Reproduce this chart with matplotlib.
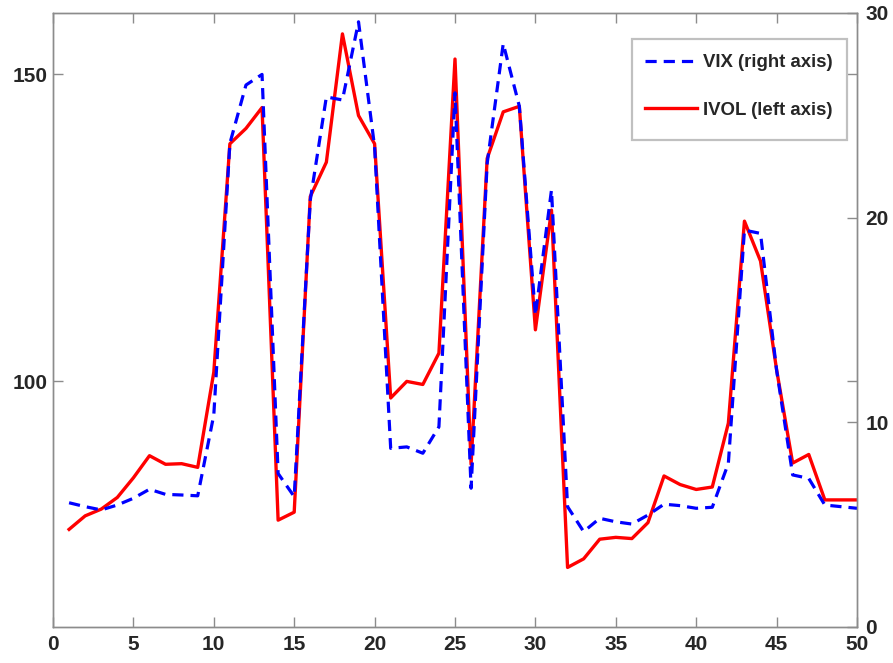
import matplotlib
matplotlib.use("Agg")
import matplotlib.pyplot as plt
from matplotlib.patches import Rectangle

plt.rcParams['font.family'] = ['Liberation Sans', 'DejaVu Sans']

x = list(range(1, 51))
ivol = [75.9, 78.1, 79.2, 81.1, 84.3, 87.9, 86.5, 86.6, 86.0, 101.5,
        138.7, 141.2, 144.6, 77.4, 78.7, 130.1, 135.7, 156.6, 143.3, 138.7,
        97.3, 100.0, 99.5, 104.6, 152.5, 86.5, 136.3, 143.9, 144.8, 108.4,
        127.9, 69.7, 71.1, 74.3, 74.6, 74.4, 77.0, 84.6, 83.2, 82.4,
        82.8, 93.2, 126.1, 119.6, 101.9, 86.7, 88.1, 80.7, 80.7, 80.7]
vix = [6.07, 5.88, 5.72, 5.96, 6.29, 6.73, 6.48, 6.45, 6.41, 10.36,
       23.63, 26.48, 27.0, 7.5, 6.37, 20.86, 25.9, 25.75, 29.57, 23.46,
       8.73, 8.8, 8.49, 9.78, 26.1, 6.78, 22.65, 28.5, 25.45, 15.24,
       21.35, 5.88, 4.66, 5.31, 5.14, 5.03, 5.47, 6.0, 5.93, 5.8,
       5.85, 8.0, 19.39, 19.23, 12.55, 7.43, 7.26, 5.96, 5.88, 5.8]

xticks = [0, 5, 10, 15, 20, 25, 30, 35, 40, 45, 50]
left_ticks = [100, 150]
right_ticks = [0, 10, 20, 30]

W, H = 893, 663
spine_col = '#8c8c8c'
text_col = '#262626'

fig = plt.figure(figsize=(W / 100, H / 100), dpi=100)
ax = fig.add_axes([53 / W, 36 / H, 804 / W, 614 / H])
ax2 = ax.twinx()

l_ivol, = ax.plot(x, ivol, color='#ff0000', lw=2.4, label='IVOL (left axis)')
l_vix, = ax2.plot(x, vix, color='#0000ff', lw=2.3, ls=(0, (3.5, 2.2)),
                  label='VIX (right axis)')

ax.set_xlim(0, 50)
ax.set_ylim(60, 160)
ax2.set_ylim(0, 30)
ax.set_xticks(xticks)
ax.set_yticks(left_ticks)
ax2.set_yticks(right_ticks)

for a in (ax, ax2):
    for s in a.spines.values():
        s.set_color(spine_col)
        s.set_linewidth(1.0)

ax.tick_params(axis='both', direction='in', length=7, width=1.0, color=spine_col,
               labelcolor=text_col, labelsize=15, top=True, right=True)
ax.tick_params(axis='x', pad=6)
ax.tick_params(axis='y', pad=4)
ax2.tick_params(axis='y', direction='in', length=7, width=1.0, color=spine_col,
                labelcolor=text_col, labelsize=15, pad=6)
for lab in ax.get_xticklabels() + ax.get_yticklabels() + ax2.get_yticklabels():
    lab.set_fontweight('bold')

# legend frame (box)
box = Rectangle((632 / W, 1 - 140 / H), (847 - 632) / W, (140 - 39) / H,
                transform=fig.transFigure, facecolor='white', edgecolor='#c0c0c0',
                linewidth=1.6, zorder=4, clip_on=False)
ax2.add_patch(box)

leg = ax2.legend(handles=[l_vix, l_ivol], loc='upper left',
                 bbox_to_anchor=(645 / W, 1 - 54 / H), bbox_transform=fig.transFigure,
                 borderaxespad=0, borderpad=0,
                 prop={'weight': 'bold', 'size': 13.4}, handlelength=2.8,
                 handletextpad=0.3, labelspacing=1.66, frameon=False)
leg.set_zorder(5)
for t in leg.get_texts():
    t.set_color(text_col)

fig.savefig('out.png', dpi=100)
